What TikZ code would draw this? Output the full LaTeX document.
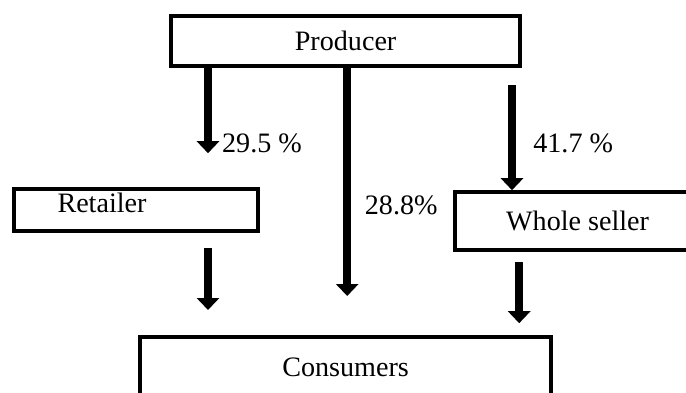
\documentclass[tikz,border=0pt]{standalone}
\usepackage{fontspec}
\setmainfont{Liberation Serif}
\usetikzlibrary{arrows.meta}
\begin{document}
\begin{tikzpicture}[box/.style={draw, line width=0.1cm, rectangle, inner sep=0pt},
  flow/.style={line width=0.2cm, -{Triangle[width=0.55cm,length=0.3cm]}},
  every node/.style={font=\fontsize{20}{24}\selectfont}]
	\useasboundingbox (0,0) rectangle (17.15,-9.8);
	\clip (0,0) rectangle (17.15,-9.8);
  	\node [box, minimum width=8.73cm, minimum height=1.25cm] (producer) at (8.64,-1.03) {Producer};
	\node [box, minimum width=6.1cm, minimum height=1.05cm] (retailer) at (3.4,-5.25) {};
	 \node [anchor=center] (retailertext) at (2.55,-5.08) {Retailer};
	\node [box, minimum width=6.13cm, minimum height=1.45cm] (wholeseller) at (14.44,-5.53) {Whole seller};
	\node [box, minimum width=10.28cm, minimum height=1.5cm] (consumers) at (8.64,-9.18) {Consumers};
	 \coordinate (p1) at (5.2,-3.83);
	 \coordinate (c1) at (8.68,-7.4);
	 \coordinate (w1) at (12.8,-2.13);
	 \coordinate (r1) at (5.2,-6.2);
	 \coordinate (r2) at (5.2,-7.75);
	 \coordinate (s1) at (12.98,-6.55);
	 \coordinate (s2) at (12.98,-8.08);
	\draw[flow] (producer.south -| p1) -- (p1);
	\draw[flow] (producer.south -| c1) -- (c1);
	\draw[flow] (w1) -- (w1 |- wholeseller.north);
	\draw[flow] (r1) -- (r2);
	\draw[flow] (s1) -- (s2);
	 \node [anchor=center] (share1) at (6.55,-3.58) {29.5 \%};
	 \node [anchor=center] (share2) at (10.03,-5.13) {28.8\%};
	 \node [anchor=center] (share3) at (14.33,-3.58) {41.7 \%};
\end{tikzpicture}
\end{document}
